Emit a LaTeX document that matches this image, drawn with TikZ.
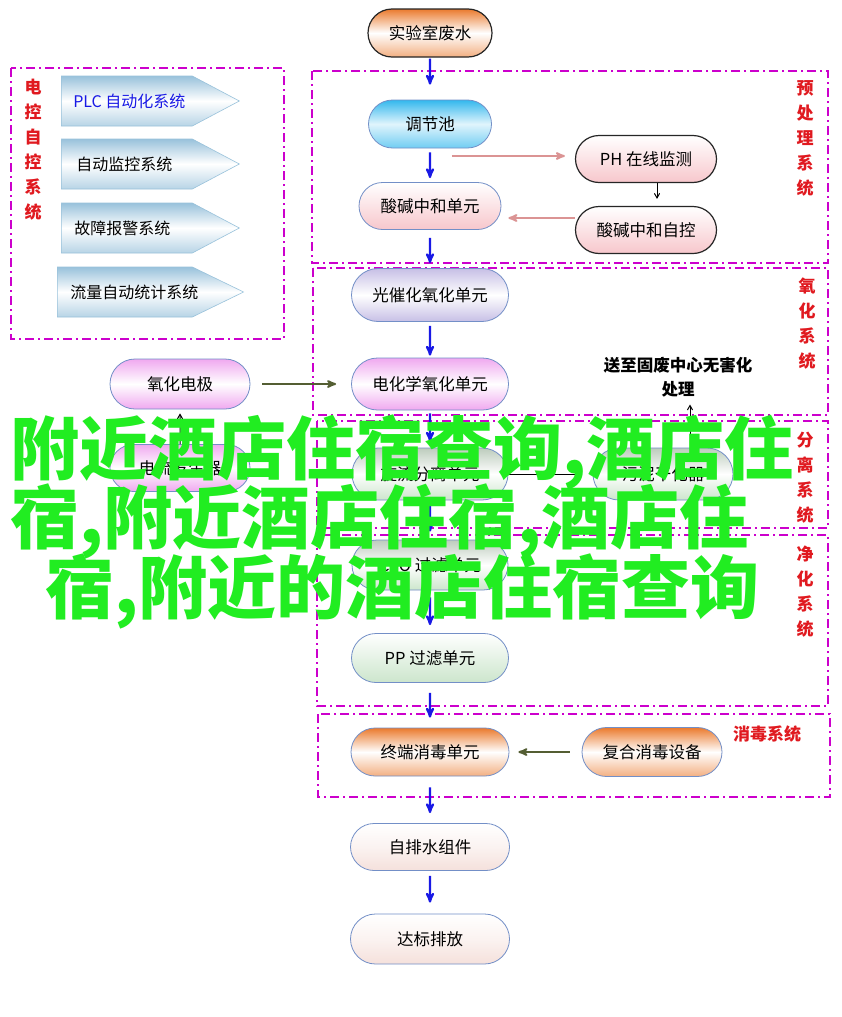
\documentclass[tikz,border=0pt]{standalone}
\usepackage{fontspec}
\setmainfont{Noto Sans CJK SC}
\usepackage{tikz}
\usetikzlibrary{arrows,shapes.misc,shapes.symbols}
\definecolor{cmagenta}{rgb}{0.8, 0.0, 0.8}
\definecolor{cblue}{rgb}{0.1, 0.1, 0.9}
\definecolor{cred}{rgb}{0.88, 0.1, 0.12}
\definecolor{cgreen}{rgb}{0.13, 0.93, 0.13}
\definecolor{cedge}{rgb}{0.45, 0.56, 0.78}
\definecolor{cpink}{rgb}{0.86, 0.58, 0.58}
\definecolor{colive}{rgb}{0.33, 0.37, 0.2}
\definecolor{corange}{rgb}{0.92, 0.48, 0.18}
\definecolor{ccyan}{rgb}{0.2, 0.72, 0.93}
\definecolor{crose}{rgb}{0.97, 0.78, 0.8}
\definecolor{clilac}{rgb}{0.78, 0.75, 0.9}
\definecolor{cmauve}{rgb}{0.94, 0.66, 0.94}
\definecolor{csage}{rgb}{0.74, 0.8, 0.74}
\definecolor{cmint}{rgb}{0.8, 0.9, 0.8}
\definecolor{cpeach}{rgb}{0.96, 0.88, 0.86}
\definecolor{csky}{rgb}{0.6, 0.76, 0.86}

\begin{document}
\begin{tikzpicture}[x=1pt,y=-1pt,>=stealth',
  pill/.style={rounded rectangle,draw=cedge,line width=0.8pt,minimum width=157pt,
    minimum height=50pt,inner sep=0pt,font=\fontsize{16.5}{20}\selectfont},
  dark pill/.style={pill,draw=black!85,line width=1.2pt},
  orange fill/.style={top color=corange,bottom color=corange!60,middle color=white},
  cyan fill/.style={top color=ccyan,bottom color=ccyan!70,middle color=ccyan!15},
  rose fill/.style={top color=white,bottom color=crose},
  lilac fill/.style={top color=clilac,bottom color=clilac,middle color=white},
  mauve fill/.style={top color=cmauve,bottom color=cmauve,middle color=white},
  sage fill/.style={top color=csage,bottom color=cmint,middle color=white},
  mint fill/.style={top color=white,bottom color=cmint},
  peach fill/.style={top color=white,bottom color=cpeach,middle color=cpeach!40},
  chevron/.style={signal,signal to=east,signal pointer angle=56,draw=csky,line width=0.6pt,
    top color=csky,bottom color=csky!70,middle color=white,
    minimum height=50pt,inner xsep=6pt,font=\fontsize{16}{19}\selectfont},
  group box/.style={draw=cmagenta,line width=1.6pt,dash pattern=on 9pt off 4pt on 2pt off 4pt},
  group label/.style={text=cred,font=\fontsize{17}{25}\selectfont\bfseries,align=center},
  flow/.style={->,draw=cblue,line width=2.2pt,shorten <=3pt,shorten >=6pt},
  side/.style={->,draw=cpink,line width=2pt},
  olive/.style={->,draw=colive,line width=2pt},
  thin/.style={->,>=angle 60,draw=black,line width=1pt}]

  \useasboundingbox[fill=white] (0,0) rectangle (841,1017);

  % dashed groups
  \draw[group box] (11,68) rectangle (284,339);
  \draw[group box] (312,71) rectangle (828,263);
  \draw[group box] (313,268) rectangle (828,415);
  \draw[group box] (317,421) rectangle (828,528);
  \draw[group box] (317,535) rectangle (828,706);
  \draw[group box] (318,714) rectangle (830,797);

  \node[group label] (g1) at (33,150) {电\\控\\自\\控\\系\\统};
  \node[group label] (g2) at (805,138) {预\\处\\理\\系\\统};
  \node[group label] (g3) at (807,324) {氧\\化\\系\\统};
  \node[group label] (g4) at (805,478) {分\\离\\系\\统};
  \node[group label] (g5) at (805,592) {净\\化\\系\\统};
  \node[group label] (g6) at (767,734) {消毒系统};

  % control chevrons
  \node[chevron,anchor=west,text=cblue] (plc) at (61,101) {\makebox[119pt][l]{\hspace{6pt}PLC 自动化系统}};
  \node[chevron,anchor=west] (monitor) at (61,164) {\makebox[119pt][l]{\hspace{9pt}自动监控系统}};
  \node[chevron,anchor=west] (alarm) at (61,228) {\makebox[119pt][l]{\hspace{7pt}故障报警系统}};
  \node[chevron,anchor=west,signal pointer angle=52] (meter) at (57,292) {\makebox[123pt][l]{\hspace{7pt}流量自动统计系统}};

  % main line
  \node[dark pill,orange fill,minimum width=124pt,minimum height=48pt] (lab) at (430,33) {实验室废水};
  \node[pill,cyan fill,minimum width=123pt,minimum height=48pt] (tank) at (430,124) {调节池};
  \node[pill,rose fill,minimum width=142pt,minimum height=47pt] (neut) at (430,206) {酸碱中和单元};
  \node[dark pill,rose fill,minimum width=141pt,minimum height=47pt] (ph) at (646,159) {PH 在线监测};
  \node[dark pill,rose fill,minimum width=141pt,minimum height=47pt] (auto) at (646,230) {酸碱中和自控};
  \node[pill,lilac fill,minimum height=53pt] (photo) at (430,295) {光催化氧化单元};
  \node[pill,mauve fill,minimum height=52pt] (electro) at (430,384) {电化学氧化单元};
  \node[pill,mauve fill,minimum width=140pt] (electrode) at (180,384) {氧化电极};
  \node[pill,mauve fill,minimum width=140pt,minimum height=47pt] (current) at (180,468) {电流发生器};
  \node[pill,sage fill,minimum width=156pt,minimum height=52pt] (cyclone) at (430,474) {旋流分离单元};
  \node[pill,sage fill,minimum width=140pt,minimum height=52pt] (sludge) at (663,474) {污泥干化器};
  \node[font=\fontsize{16.5}{24}\selectfont\bfseries,align=center] (waste) at (678,377) {送至固废中心无害化\\处理};
  \node[pill,sage fill,minimum width=156pt] (cto) at (430,565) {CTO 过滤单元};
  \node[pill,mint fill,minimum width=157pt,minimum height=49pt] (pp) at (430,658) {PP 过滤单元};
  \node[pill,orange fill,minimum width=158pt,minimum height=48pt] (term) at (430,752) {终端消毒单元};
  \node[pill,orange fill,minimum width=140pt,minimum height=49pt] (combo) at (652,752) {复合消毒设备};
  \node[pill,peach fill,minimum width=159pt,minimum height=47pt] (drain) at (430,847) {自排水组件};
  \node[pill,peach fill,minimum width=159pt,minimum height=50pt] (out) at (430,939) {达标排放};

  \path[flow]
    (lab) edge[shorten <=1pt,shorten >=15pt] (tank)
    (tank) edge[shorten <=4pt,shorten >=4pt] (neut)
    (neut) edge[shorten <=8pt,shorten >=5pt] (photo)
    (photo) edge[shorten <=4pt,shorten >=2pt] (electro)
    (electro) edge (cyclone)
    (cyclone) edge[shorten <=5pt,shorten >=8pt] (cto)
    (cto) edge[shorten <=7pt,shorten >=8pt] (pp)
    (pp) edge[shorten <=10pt,shorten >=10pt] (term)
    (term) edge[shorten <=11pt,shorten >=10pt] (drain)
    (drain) edge[shorten <=5pt,shorten >=11pt] (out);

  \draw[side] (tank.east |- ph.west) ++(-40,-3) coordinate (t1) -- ([xshift=-10pt,yshift=3pt]ph.west);
  \draw[side] ([yshift=12pt]auto.west) -- ([xshift=7pt,yshift=-12pt]neut.east);
  \draw[thin] ([xshift=11pt]ph.south) -- ([xshift=11pt,yshift=7pt]auto.north);
  \draw[olive] ([xshift=12pt]electrode.east) -- ([xshift=-15pt]electro.west);
  \draw[thin] (current) -- ([yshift=-4pt]electrode.south);
  \draw[thin] ([xshift=-1pt]cyclone.east) -- ([xshift=-11pt]sludge.west);
  \draw[thin] ([xshift=27pt,yshift=-5pt]sludge.north) -- ([xshift=12pt,yshift=-4pt]waste.south);
  \draw[olive] ([xshift=-12pt]combo.west) -- ([xshift=9pt]term.east);

  % overlay text
  \begin{scope}[every node/.style={anchor=base west,text=cgreen,font=\fontsize{69}{69}\selectfont\bfseries,inner sep=0pt}]
    \node (w1) at (10,474) {附近酒店住宿查询,酒店住};
    \node (w2) at (10,543) {宿,附近酒店住宿,酒店住};
    \node (w3) at (45,613) {宿,附近的酒店住宿查询};
  \end{scope}
\end{tikzpicture}
\end{document}
